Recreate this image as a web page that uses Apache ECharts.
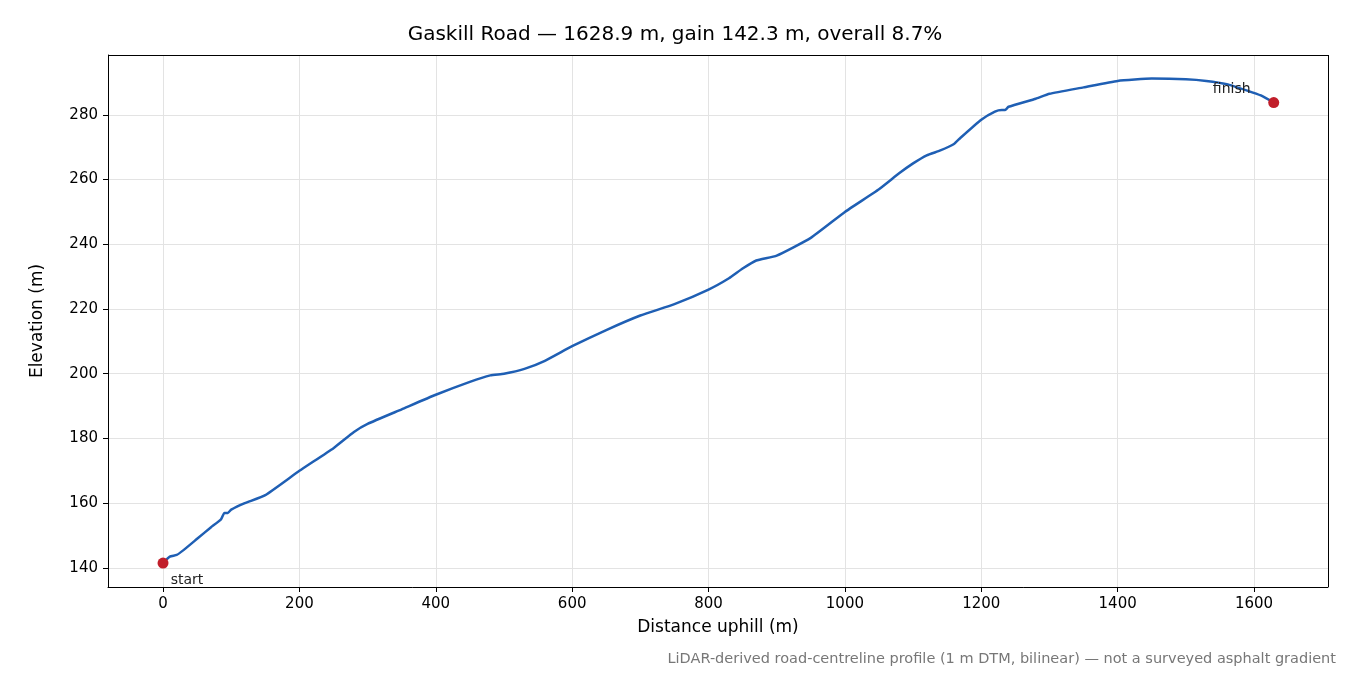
<!DOCTYPE html>
<html><head><meta charset="utf-8">
<script src="https://cdn.jsdelivr.net/npm/echarts@6/dist/echarts.min.js"></script>
<style>html,body{margin:0;padding:0;background:#fff}#c{width:1350px;height:675px}</style>
</head><body><div id="c"></div>
<script>
const distances = [0,10,20,30,50,70,85,90,95,100,120,150,200,250,280,300,350,400,450,480,500,530,560,600,650,700,750,800,830,850,870,900,950,1000,1050,1080,1100,1120,1140,1160,1170,1200,1220,1230,1235,1240,1280,1300,1350,1400,1450,1500,1530,1560,1590,1610,1628.9];
const elevations = [141.5,143.5,144,145.5,149,152.5,155,157,157,158,160,162.5,170,177,182,184.5,189,193.5,197.5,199.5,200,201.5,204,208.5,213.5,218,221.5,226,229.5,232.5,235,236.5,242,250,257,262,265,267.5,269,271,273,278.5,281,281.5,281.5,282.5,285,286.5,288.5,290.5,291.2,291,290.5,289.5,287.5,286,283.8];
const xTicks = [0,200,400,600,800,1000,1200,1400,1600];
const yTicks = [140,160,180,200,220,240,260,280];
const endpoints = [{name:'start',x:0,y:141.5},{name:'finish',x:1628.9,y:283.8}];
const F = 'DejaVu Sans';
const chart = echarts.init(document.getElementById('c'));
chart.setOption({
  animation:false,
  title:{text:'Gaskill Road — 1628.9 m, gain 142.3 m, overall 8.7%',left:'center',top:20,textStyle:{fontFamily:F,fontSize:20,fontWeight:'normal',color:'#000'}},
  graphic:[{type:'text',right:14,bottom:8,style:{text:'LiDAR-derived road-centreline profile (1 m DTM, bilinear) — not a surveyed asphalt gradient',fontFamily:F,fontSize:14.5,fill:'#777'}}],
  grid:{left:108,right:22,top:55,bottom:88},
  xAxis:{type:'value',min:-80.7,max:1708.5,name:'Distance uphill (m)',nameLocation:'middle',nameGap:32,
    nameTextStyle:{fontFamily:F,fontSize:17,color:'#000'},
    axisLine:{show:true,onZero:false,lineStyle:{color:'#000'}},
    axisTick:{show:true,length:5,customValues:xTicks,lineStyle:{color:'#000'}},
    axisLabel:{fontFamily:F,fontSize:15,color:'#000',margin:10,customValues:xTicks,formatter:v=>String(v)},
    splitLine:{show:true,lineStyle:{color:'#e3e3e3'}}},
  yAxis:{type:'value',min:134.1,max:298.5,name:'Elevation (m)',nameLocation:'middle',nameGap:62,
    nameTextStyle:{fontFamily:F,fontSize:17,color:'#000'},
    axisLine:{show:true,onZero:false,lineStyle:{color:'#000'}},
    axisTick:{show:true,length:5,customValues:yTicks,lineStyle:{color:'#000'}},
    axisLabel:{fontFamily:F,fontSize:15,color:'#000',margin:10,customValues:yTicks},
    splitLine:{show:true,lineStyle:{color:'#e3e3e3'}}},
  series:[
    {type:'line',data:distances.map((d,i)=>[d,elevations[i]]),showSymbol:false,smooth:0.15,lineStyle:{color:'#1f5fb4',width:2.5},z:2},
    {type:'scatter',data:endpoints.map(p=>({value:[p.x,p.y],name:p.name,label:{show:true,formatter:p.name,fontFamily:F,fontSize:14,color:'#222',
      position:p.name==='start'?'bottom':'top',offset:p.name==='start'?[24,0]:[-42,4]}})),
      symbolSize:11,itemStyle:{color:'#c11e2a',opacity:1},z:3},
    {type:'line',data:[],markLine:{silent:true,symbol:'none',label:{show:false},lineStyle:{color:'#000',type:'solid',width:1},
      data:[{xAxis:1708.5},{yAxis:298.5}]}}
  ]
});
</script></body></html>
